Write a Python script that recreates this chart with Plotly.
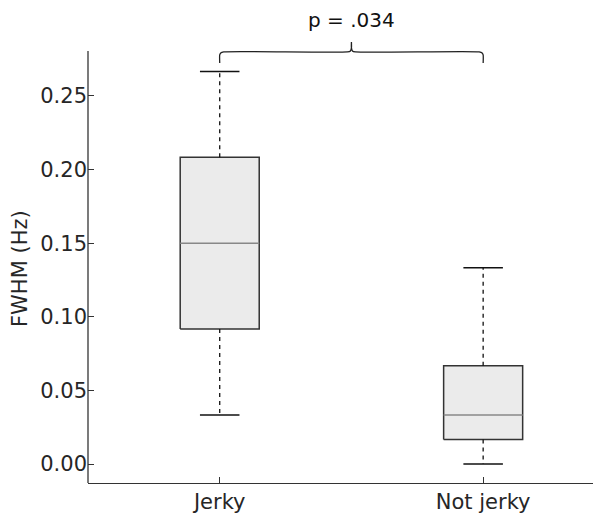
import plotly.graph_objects as go

# ---- data ----
categories = ["Jerky", "Not jerky"]
whisker_low = [0.0333, 0.0]
q1 = [0.0917, 0.0167]
median = [0.1500, 0.0333]
q3 = [0.2083, 0.0667]
whisker_high = [0.2667, 0.1333]
y_ticks = [0.00, 0.05, 0.10, 0.15, 0.20, 0.25]
p_label = "p = .034"
y_title = "FWHM (Hz)"

# ---- style ----
FONT = "DejaVu Sans"
TXT = "#262626"
EDGE = "#333333"
BOX_W = 0.30
CAP_W = 0.15
X_RANGE = [0.5, 2.417]
Y_LO, Y_HI_SPINE, Y_HI = -0.0129, 0.2806, 0.3152
W, H = 593, 515
ML, MR, MT, MB = 88, 0, 0, 32
px_x = (X_RANGE[1] - X_RANGE[0]) / (W - ML - MR)
px_y = (Y_HI - Y_LO) / (H - MT - MB)

fig = go.Figure()
pos = list(range(1, len(categories) + 1))

for i, x in enumerate(pos):
    # box
    fig.add_trace(go.Scatter(
        x=[x - BOX_W / 2, x + BOX_W / 2, x + BOX_W / 2, x - BOX_W / 2, x - BOX_W / 2],
        y=[q1[i], q1[i], q3[i], q3[i], q1[i]],
        mode="lines", fill="toself", fillcolor="#ebebeb",
        line=dict(color=EDGE, width=1.5), hoverinfo="skip", showlegend=False))
    # median
    fig.add_trace(go.Scatter(
        x=[x - BOX_W / 2, x + BOX_W / 2], y=[median[i], median[i]],
        mode="lines", line=dict(color="#888888", width=1.5),
        hoverinfo="skip", showlegend=False))
    # whiskers (dashed)
    fig.add_trace(go.Scatter(
        x=[x, x, None, x, x],
        y=[q3[i], whisker_high[i], None, q1[i], whisker_low[i]],
        mode="lines", line=dict(color="#111111", width=1.3, dash="4px,4px"),
        hoverinfo="skip", showlegend=False))
    # caps
    fig.add_trace(go.Scatter(
        x=[x - CAP_W / 2, x + CAP_W / 2, None, x - CAP_W / 2, x + CAP_W / 2],
        y=[whisker_high[i], whisker_high[i], None, whisker_low[i], whisker_low[i]],
        mode="lines", line=dict(color="#111111", width=1.5),
        hoverinfo="skip", showlegend=False))

# significance bracket
yb = Y_HI_SPINE - 1 * px_y
end_drop = 11 * px_y
mid_rise = 10 * px_y
r = 4
x1, x2 = pos[0], pos[1]
xm = (x1 + x2) / 2
bx = [x1, x1, x1 + 1 * px_x, x1 + r * px_x,
      xm - r * px_x, xm - 1 * px_x, xm, xm, xm, xm + 1 * px_x, xm + r * px_x,
      x2 - r * px_x, x2 - 1 * px_x, x2, x2]
by = [yb - end_drop, yb - 3 * px_y, yb - 1 * px_y, yb,
      yb, yb + 1 * px_y, yb + 4 * px_y, yb + mid_rise, yb + 4 * px_y, yb + 1 * px_y, yb,
      yb, yb - 1 * px_y, yb - 3 * px_y, yb - end_drop]
fig.add_trace(go.Scatter(x=bx, y=by, mode="lines",
                         line=dict(color="#222222", width=1.3, shape="spline", smoothing=0.6),
                         hoverinfo="skip", showlegend=False))

fig.add_annotation(x=xm, y=yb + mid_rise + 22 * px_y, xref="x", yref="y",
                   text=p_label, showarrow=False, yanchor="middle", xanchor="center",
                   font=dict(family=FONT, size=20, color="#111111"))

# y title
fig.add_annotation(xref="paper", yref="y", x=(20 - ML) / (W - ML - MR),
                   y=(Y_LO + Y_HI_SPINE) / 2 - 2 * px_y,
                   text=y_title, textangle=-90, showarrow=False,
                   xanchor="center", yanchor="middle",
                   font=dict(family=FONT, size=21, color=TXT))

# left spine (stops at axis top)
fig.add_shape(type="line", xref="paper", yref="y", x0=0, x1=0, y0=Y_LO, y1=Y_HI_SPINE,
              line=dict(color=EDGE, width=1.3))

fig.update_layout(
    width=W, height=H, margin=dict(l=ML, r=MR, t=MT, b=MB, autoexpand=False),
    plot_bgcolor="white", paper_bgcolor="white",
    font=dict(family=FONT, size=20, color=TXT),
    xaxis=dict(range=X_RANGE, tickvals=pos, ticktext=categories, automargin=False,
               showgrid=False, zeroline=False, showline=True, linecolor=EDGE, linewidth=1.3,
               ticks="inside", ticklen=6, tickcolor=EDGE, tickwidth=1,
               tickfont=dict(family=FONT, size=21, color=TXT)),
    yaxis=dict(range=[Y_LO, Y_HI], tickvals=y_ticks, tickformat=".2f", automargin=False,
               showgrid=False, zeroline=False, showline=False,
               ticks="inside", ticklen=6, tickcolor=EDGE, tickwidth=1,
               tickfont=dict(family=FONT, size=21, color=TXT)),
)

fig.write_html("out.html", config={"displayModeBar": False},
               post_script="document.body.style.margin='0';document.body.style.padding='0';")
